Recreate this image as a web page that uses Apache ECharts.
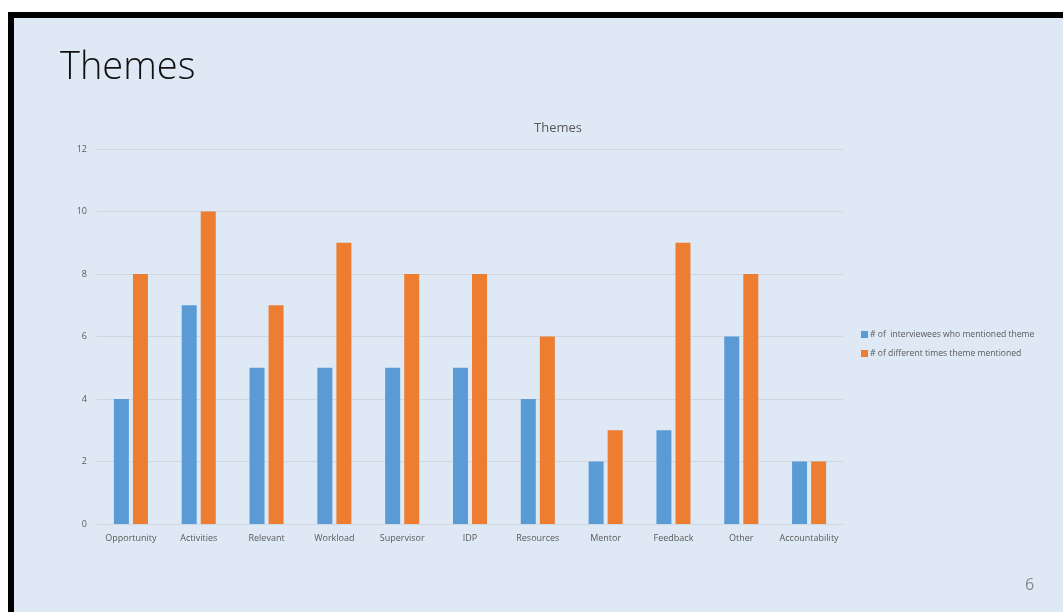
<!DOCTYPE html>
<html><head><meta charset="utf-8">
<script src="https://cdn.jsdelivr.net/npm/echarts@6/dist/echarts.min.js"></script>
<style>html,body{margin:0;padding:0;background:#fff;}#c{width:1063px;height:612px;}</style>
</head><body><div id="c"></div>
<script>
const categories = ["Opportunity","Activities","Relevant","Workload","Supervisor","IDP","Resources","Mentor","Feedback","Other","Accountability"];
const interviewees = [4,7,5,5,5,5,4,2,3,6,2];
const timesMentioned = [8,10,7,9,8,8,6,3,9,8,2];
const seriesNames = ["# of  interviewees who mentioned theme","# of different times theme mentioned"];
const yTicks = {min:0, max:12, interval:2};

const chart = echarts.init(document.getElementById('c'), null, {renderer:'canvas'});
const txt = '#595959';
chart.setOption({
  animation:false,
  backgroundColor:'#ffffff',
  graphic:[
    {type:'rect', shape:{x:8,y:12,width:1055,height:600}, style:{fill:'#000000'}, z:-10},
    {type:'rect', shape:{x:14,y:18,width:1049,height:594}, style:{fill:'#dfe9f5'}, z:-9},
    {type:'text', left:60, top:49, style:{text:'Themes', font:'300 38px "Open Sans"', fill:'#111111'}},
    {type:'text', left:1025, top:577, style:{text:'6', font:'16px "Open Sans"', fill:'#888888'}}
  ],
  title:{text:'Themes', left:529, top:117,
    textStyle:{fontSize:13, fontWeight:'normal', color:txt, fontFamily:'"Open Sans"'}},
  legend:{orient:'vertical', left:856, top:325, itemWidth:7, itemHeight:7, itemGap:10,
    icon:'rect', textStyle:{fontSize:8.6, color:txt, fontFamily:'"Open Sans"', padding:[0,0,0,-3]}},
  grid:{left:97, right:220, top:149, bottom:88},
  xAxis:{type:'category', data:categories,
    axisLine:{lineStyle:{color:'#d0d6dd'}}, axisTick:{show:false},
    axisLabel:{color:txt, fontSize:9, fontFamily:'"Open Sans"', margin:10, interval:0}},
  yAxis:{type:'value', min:yTicks.min, max:yTicks.max, interval:yTicks.interval,
    axisLine:{show:false}, axisTick:{show:false},
    splitLine:{lineStyle:{color:'#d0d6dd'}},
    axisLabel:{color:txt, fontSize:9, fontFamily:'"Open Sans"', margin:10}},
  series:[
    {name:seriesNames[0], type:'bar', data:interviewees, barWidth:15, barGap:'27%',
      itemStyle:{color:'#5b9bd5'}},
    {name:seriesNames[1], type:'bar', data:timesMentioned, barWidth:15,
      itemStyle:{color:'#ed7d31'}}
  ]
});
</script></body></html>
